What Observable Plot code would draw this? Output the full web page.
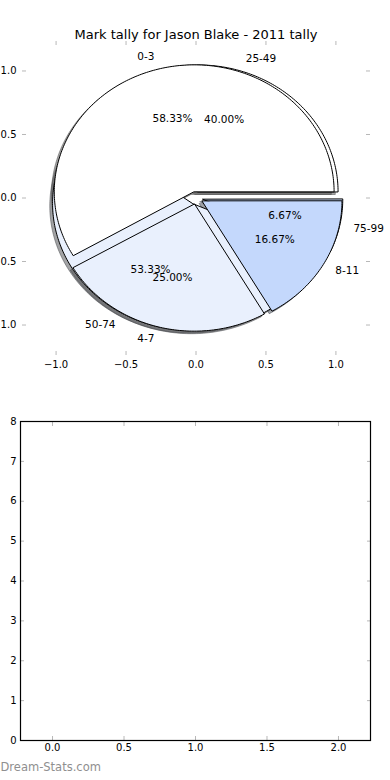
<!DOCTYPE html>
<html><head><meta charset="utf-8">
<script src="https://cdn.jsdelivr.net/npm/d3@7"></script>
<script src="https://cdn.jsdelivr.net/npm/@observablehq/plot@0.6"></script>
<style>
body{margin:0;background:#fff;font-family:"DejaVu Sans",sans-serif}
svg{display:block;overflow:visible}
#top,#bottom{width:390px;height:390px}
</style></head><body><div id="top"></div><div id="bottom"></div>
<script>
const title = "Mark tally for Jason Blake - 2011 tally";
const labelsA = ["0-3", "4-7", "8-11"];
const valuesA = [7, 3, 2];
const labelsB = ["25-49", "50-74", "75-99"];
const valuesB = [6, 8, 1];
const wedgeColors = ["#ffffff", "#e9f0fd", "#c4d8fc"];
const explode = 0.05;
const pieTicks = [-1, -0.5, 0, 0.5, 1];
const bottomXTicks = [0, 0.5, 1, 1.5, 2];
const bottomYTicks = [0, 1, 2, 3, 4, 5, 6, 7, 8];
const watermark = "Dream-Stats.com";

const FONT = "DejaVu Sans";
const tickStroke = "#b8b8b8";
const fmt1 = d3.format(".1f");

function wedges(labels, values) {
  const total = d3.sum(values);
  let cum = 0;
  return values.map((v, i) => {
    const t1 = 360 * cum / total; cum += v; const t2 = 360 * cum / total;
    const tm = (t1 + t2) / 2 * Math.PI / 180;
    const cx = explode * Math.cos(tm), cy = explode * Math.sin(tm);
    const pts = [[cx, cy]];
    const n = Math.max(2, Math.ceil(t2 - t1));
    for (let k = 0; k <= n; k++) {
      const a = (t1 + (t2 - t1) * k / n) * Math.PI / 180;
      pts.push([cx + Math.cos(a), cy + Math.sin(a)]);
    }
    const c = d3.rgb(wedgeColors[i]);
    return {
      label: labels[i], pct: (100 * v / total).toFixed(2) + "%",
      color: wedgeColors[i], shadow: d3.rgb(c.r * 0.3, c.g * 0.3, c.b * 0.3).formatHex(),
      pts,
      lx: cx + 1.1 * Math.cos(tm), ly: cy + 1.1 * Math.sin(tm),
      px: cx + 0.6 * Math.cos(tm), py: cy + 0.6 * Math.sin(tm)
    };
  });
}

const pieA = wedges(labelsA, valuesA);
const pieB = wedges(labelsB, valuesB);
const all = [...pieB, ...pieA];

const shadowMarks = all.map(w => Plot.line(w.pts, {
  x: d => d[0] - 0.02, y: d => d[1] - 0.02, curve: "linear-closed",
  fill: w.shadow, fillOpacity: 0.5, stroke: w.shadow, strokeOpacity: 0.5, strokeWidth: 1
}));
const wedgeMarks = all.map(w => Plot.line(w.pts, {
  x: d => d[0], y: d => d[1], curve: "linear-closed",
  fill: w.color, stroke: "black", strokeWidth: 1
}));

const topPlot = Plot.plot({
  width: 390, height: 390,
  marginTop: 40, marginBottom: 35, marginLeft: 22, marginRight: 21,
  style: {fontFamily: FONT, fontSize: "10px", color: "black", background: "white"},
  x: {domain: [-1.24, 1.24]},
  y: {domain: [-1.24, 1.24]},
  marks: [
    ...shadowMarks,
    ...wedgeMarks,
    Plot.text(all, {filter: d => d.lx > 0, x: "lx", y: "ly", text: "label", textAnchor: "start", fontSize: 10.5, fill: "black"}),
    Plot.text(all, {filter: d => d.lx <= 0, x: "lx", y: "ly", text: "label", textAnchor: "end", fontSize: 10.5, fill: "black"}),
    Plot.text(all, {x: "px", y: "py", text: "pct", fontSize: 10.5, fill: "black"}),
    Plot.axisX({ticks: pieTicks, anchor: "top", tickSize: 4, dy: 4, fill: "none", stroke: tickStroke, label: null}),
    Plot.axisX({ticks: pieTicks, anchor: "bottom", tickSize: 4, dy: -4, fill: "none", stroke: tickStroke, label: null}),
    Plot.axisY({ticks: pieTicks, anchor: "left", tickSize: 4, dx: 4, fill: "none", stroke: tickStroke, label: null}),
    Plot.axisY({ticks: pieTicks, anchor: "right", tickSize: 4, dx: -4, fill: "none", stroke: tickStroke, label: null}),
    Plot.axisX({ticks: pieTicks, anchor: "bottom", tickSize: 0, tickPadding: 5, tickFormat: fmt1, label: null, fontSize: 10}),
    Plot.axisY({ticks: pieTicks, anchor: "left", tickSize: 0, tickPadding: 6, tickFormat: fmt1, label: null, fontSize: 10}),
    Plot.text([title], {frameAnchor: "top", dy: -11, fontSize: 13, fill: "black"})
  ]
});
document.getElementById("top").append(topPlot);

const bottomPlot = Plot.plot({
  width: 390, height: 390,
  marginTop: 31, marginBottom: 40, marginLeft: 20, marginRight: 20,
  style: {fontFamily: FONT, fontSize: "10px", color: "black", background: "white"},
  x: {domain: [-0.224, 2.224]},
  y: {domain: [0, 8]},
  marks: [
    Plot.axisX({ticks: bottomXTicks, anchor: "top", tickSize: 4, dy: 4, fill: "none", stroke: tickStroke, label: null}),
    Plot.axisX({ticks: bottomXTicks, anchor: "bottom", tickSize: 4, dy: -4, fill: "none", stroke: tickStroke, label: null}),
    Plot.axisY({ticks: bottomYTicks, anchor: "left", tickSize: 4, dx: 4, fill: "none", stroke: tickStroke, label: null}),
    Plot.axisY({ticks: bottomYTicks, anchor: "right", tickSize: 4, dx: -4, fill: "none", stroke: tickStroke, label: null}),
    Plot.axisX({ticks: bottomXTicks, anchor: "bottom", tickSize: 0, tickPadding: 3, tickFormat: fmt1, label: null, fontSize: 10}),
    Plot.axisY({ticks: bottomYTicks, anchor: "left", tickSize: 0, tickPadding: 4, tickFormat: d3.format("d"), label: null, fontSize: 10}),
    Plot.frame({stroke: "black", strokeWidth: 1.2}),
    Plot.text([watermark], {frameAnchor: "bottom-left", dx: -20, dy: 30, textAnchor: "start", fontSize: 11.5, fill: "#8f8f8f"})
  ]
});
document.getElementById("bottom").append(bottomPlot);
</script>
</body></html>
